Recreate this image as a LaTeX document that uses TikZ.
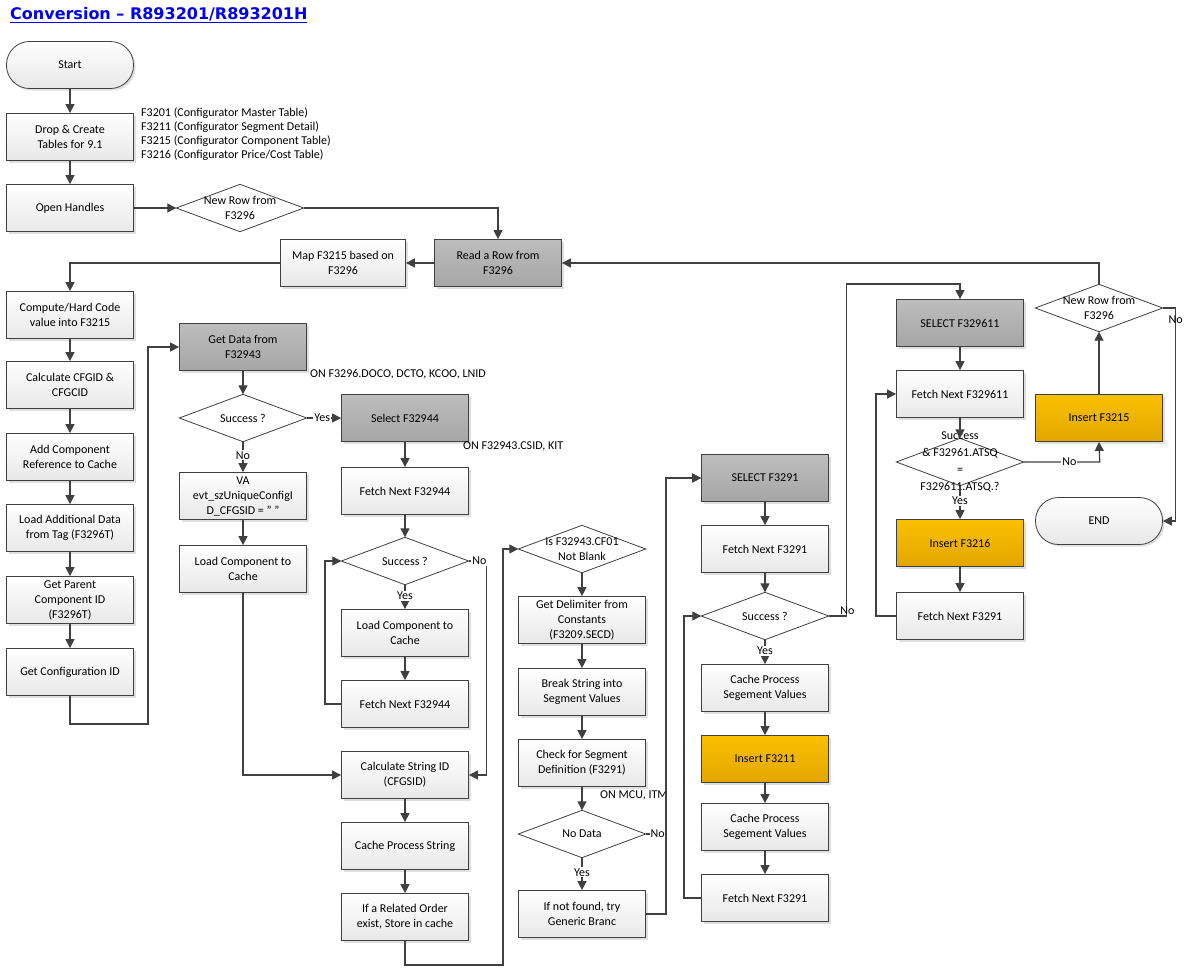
\documentclass[tikz,border=0pt]{standalone}
\usepackage{fontspec}
\setmainfont{Carlito}
\newfontfamily\titlefont{DejaVu Sans}
\usetikzlibrary{shadows,arrows.meta}
\definecolor{ln}{HTML}{404040}
\definecolor{ttl}{HTML}{0000EE}
\definecolor{gtop}{HTML}{BDBDBD}
\definecolor{gbot}{HTML}{A6A6A6}
\definecolor{otop}{HTML}{FAC000}
\definecolor{obot}{HTML}{E3A600}
\tikzset{
 box/.style={rectangle,draw=ln,line width=0.8pt,minimum width=127pt,minimum height=47pt,align=center,top color=white,bottom color=gray!18,drop shadow={opacity=0.25,shadow xshift=2pt,shadow yshift=-2pt},font=\fontsize{12}{15}\selectfont},
 gbox/.style={box,top color=gtop,bottom color=gbot},
 obox/.style={box,top color=otop,bottom color=obot},
 term/.style={box,rounded corners=23pt},
 dia/.style={rectangle,minimum width=127pt,minimum height=47pt,align=center,font=\fontsize{12}{15}\selectfont,inner sep=0pt},
 arr/.style={draw=ln,line width=1.3pt,-{Triangle[length=9pt,width=9pt]}},
 lab/.style={fill=white,inner sep=1pt,font=\fontsize{12}{14}\selectfont},
 note/.style={anchor=west,inner sep=0pt,font=\fontsize{12}{14}\selectfont,align=left}
}
\newcommand{\diashape}[1]{\draw[ln,line width=0.8pt,fill=white] (#1.west)--(#1.north)--(#1.east)--(#1.south)--cycle;}
\begin{document}
\begin{tikzpicture}[x=1pt,y=-1pt]
\useasboundingbox (0,0) rectangle (1189,970);
\node[anchor=west,inner sep=0pt,text=ttl,font=\titlefont\bfseries\fontsize{16}{18}\selectfont] (title) at (10,15) {\underline{Conversion – R893201/R893201H}};
% left column
\node[term] (start) at (70,65) {Start};
\node[box] (drop) at (70,137) {Drop \& Create\\Tables for 9.1};
\node[note] (tabs) at (141,134) {F3201 (Configurator Master Table)\\F3211 (Configurator Segment Detail)\\F3215 (Configurator Component Table)\\F3216 (Configurator Price/Cost Table)};
\node[box] (open) at (70,208) {Open Handles};
\node[box] (comp) at (70,315) {Compute/Hard Code\\value into F3215};
\node[box] (cfgid) at (70,385) {Calculate CFGID \&\\CFGCID};
\node[box] (addc) at (70,457) {Add Component\\Reference to Cache};
\node[box] (load) at (70,528) {Load Additional Data\\from Tag (F3296T)};
\node[box] (par) at (70,600) {Get Parent\\Component ID\\(F3296T)};
\node[box] (gcfg) at (70,672) {Get Configuration ID};
% top row
\node[dia] (nr1) at (240,208) {}; \diashape{nr1}
\node[dia] at (240,208) {New Row from\\F3296};
\node[gbox] (read) at (498,263) {Read a Row from\\F3296};
\node[box,minimum width=125pt] (map) at (343,263) {Map F3215 based on\\F3296};
% column 2
\node[gbox] (gd) at (243,347) {Get Data from\\F32943};
\node[note] (on1) at (310,374) {ON F3296.DOCO, DCTO, KCOO, LNID};
\node[dia] (s1) at (243,418) {}; \diashape{s1}
\node[dia] at (243,418) {Success ?};
\node[box] (va) at (243,496) {VA\\evt\_szUniqueConfigI\\D\_CFGSID = " "};
\node[box] (lc1) at (243,569) {Load Component to\\Cache};
% column 3
\node[gbox] (sel44) at (405,418) {Select F32944};
\node[note] (on2) at (463,446) {ON F32943.CSID, KIT};
\node[box] (fn1) at (405,491) {Fetch Next F32944};
\node[dia] (s2) at (405,561) {}; \diashape{s2}
\node[dia] at (405,561) {Success ?};
\node[box] (lc2) at (405,633) {Load Component to\\Cache};
\node[box] (fn2) at (405,704) {Fetch Next F32944};
\node[box] (calc) at (405,775) {Calculate String ID\\(CFGSID)};
\node[box] (cps) at (405,846) {Cache Process String};
\node[box] (rel) at (405,917) {If a Related Order\\exist, Store in cache};
% column 4
\node[dia] (isb) at (582,549) {}; \diashape{isb}
\node[dia] at (582,549) {Is F32943.CF01\\Not Blank};
\node[box] (del) at (582,620) {Get Delimiter from\\Constants\\(F3209.SECD)};
\node[box] (brk) at (582,692) {Break String into\\Segment Values};
\node[box] (chk) at (582,763) {Check for Segment\\Definition (F3291)};
\node[dia] (nod) at (582,834) {}; \diashape{nod}
\node[dia] at (582,834) {No Data};
\node[note] (on3) at (600,795) {ON MCU, ITM};
\node[box] (nf) at (582,914) {If not found, try\\Generic Branc};
% column 5
\node[gbox] (sel91) at (765,478) {SELECT F3291};
\node[box] (fn91) at (765,549) {Fetch Next F3291};
\node[dia] (s3) at (765,616) {}; \diashape{s3}
\node[dia] at (765,616) {Success ?};
\node[box] (cpsv1) at (765,688) {Cache Process\\Segement Values};
\node[obox] (i3211) at (765,759) {Insert F3211};
\node[box] (cpsv2) at (765,827) {Cache Process\\Segement Values};
\node[box] (fn91b) at (765,898) {Fetch Next F3291};
% column 6
\node[gbox] (sel611) at (960,323) {SELECT F329611};
\node[box] (fn611) at (960,394) {Fetch Next F329611};
\node[dia] (s4) at (960,462) {}; \diashape{s4}
\node[dia,font=\fontsize{12}{17}\selectfont] at (960,462) {Success\\\& F32961.ATSQ\\=\\F329611.ATSQ.?};
\node[obox] (i3216) at (960,543) {Insert F3216};
\node[box] (fn91c) at (960,616) {Fetch Next F3291};
% column 7
\node[dia] (nr2) at (1099,308) {}; \diashape{nr2}
\node[dia] at (1099,308) {New Row from\\F3296};
\node[obox] (i3215) at (1099,418) {Insert F3215};
\node[term] (endn) at (1099,521) {END};
% connectors
\draw[arr] (start) -- (drop);
\draw[arr] (drop) -- (open);
\draw[arr] (open) -- (nr1.west);
\draw[arr] (nr1.east) -| (read.north);
\draw[arr] (read) -- (map);
\draw[arr] (map.west) -| (comp.north);
\draw[arr] (comp) -- (cfgid);
\draw[arr] (cfgid) -- (addc);
\draw[arr] (addc) -- (load);
\draw[arr] (load) -- (par);
\draw[arr] (par) -- (gcfg);
\draw[arr] (gcfg.south) -- ++(0,28) -- ++(78,0) |- (gd.west);
\draw[arr] (gd) -- (s1.north);
\draw[arr] (s1.east) -- node[lab,pos=0.45]{Yes} (sel44.west);
\draw[arr] (s1.south) -- node[lab,pos=0.45]{No} (va.north);
\draw[arr] (va) -- (lc1);
\draw[arr] (lc1.south) |- (calc.west);
\draw[arr] (sel44) -- (fn1);
\draw[arr] (fn1) -- (s2.north);
\draw[arr] (s2.east) -- node[lab,pos=0.6]{No} ++(18,0) |- (calc.east);
\draw[arr] (s2.south) -- node[lab,pos=0.45]{Yes} (lc2.north);
\draw[arr] (lc2) -- (fn2);
\draw[arr] (fn2.west) -- ++(-16,0) |- (s2.west);
\draw[arr] (calc) -- (cps);
\draw[arr] (cps) -- (rel);
\draw[arr] (rel.south) -- ++(0,24) -- ++(98,0) |- (isb.west);
\draw[arr] (isb.south) -- (del);
\draw[arr] (del) -- (brk);
\draw[arr] (brk) -- (chk);
\draw[arr] (chk) -- (nod.north);
\draw[arr] (nod.east) -- node[lab,pos=0.6]{No} ++(20,0) |- (sel91.west);
\draw[arr] (nod.south) -- node[lab,pos=0.45]{Yes} (nf.north);
\draw[arr] (nf.east) -- ++(20,0) |- (sel91.west);
\draw[arr] (sel91) -- (fn91);
\draw[arr] (fn91) -- (s3.north);
\draw[arr] (s3.south) -- node[lab,pos=0.45]{Yes} (cpsv1.north);
\draw[arr] (cpsv1) -- (i3211);
\draw[arr] (i3211) -- (cpsv2);
\draw[arr] (cpsv2) -- (fn91b);
\draw[arr] (fn91b.west) -- ++(-17,0) |- (s3.west);
\draw[arr] (s3.east) -- ++(18,0) node[lab,anchor=south west,fill=none,xshift=-8pt]{No} -- ++(0,-332) -| (sel611.north);
\draw[arr] (sel611) -- (fn611);
\draw[arr] (fn611) -- (s4.north);
\draw[arr] (s4.south) -- node[lab,pos=0.45]{Yes} (i3216.north);
\draw[arr] (i3216) -- (fn91c);
\draw[arr] (fn91c.west) -- ++(-20,0) |- (fn611.west);
\draw[arr] (s4.east) -- node[lab,pos=0.6]{No} ++(76,0) -- (i3215.south);
\draw[arr] (i3215) -- (nr2.south);
\draw[arr] (nr2.north) |- (read.east);
\draw[arr] (nr2.east) -- ++(13,0) node[lab,below,yshift=-6pt,fill=none]{No} |- (endn.east);
\end{tikzpicture}
\end{document}
